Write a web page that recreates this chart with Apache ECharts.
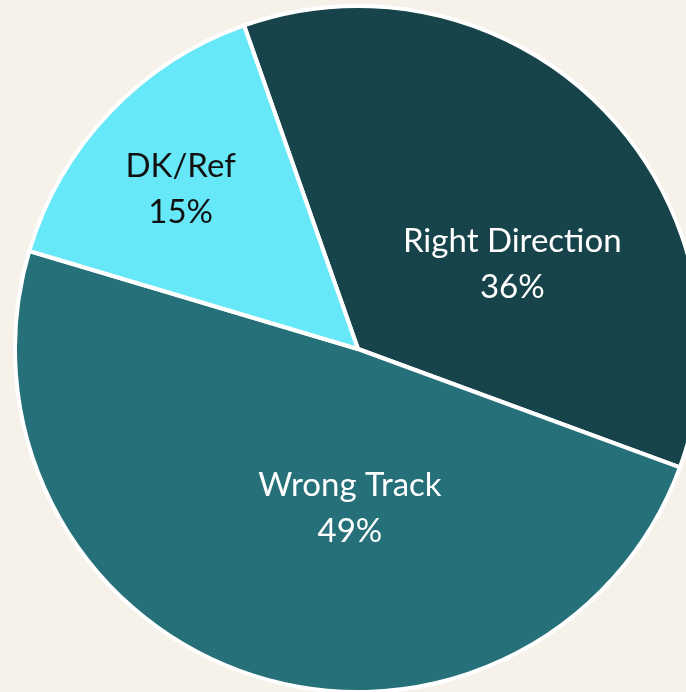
<!DOCTYPE html>
<html>
<head>
<meta charset="utf-8">
<script src="https://cdn.jsdelivr.net/npm/echarts@6/dist/echarts.min.js"></script>
<style>
  html, body { margin: 0; padding: 0; background: #f6f2ea; }
  #chart { width: 686px; height: 692px; }
</style>
</head>
<body>
<div id="chart"></div>
<script>
// slices, clockwise from the top-left
const categories = ['Right Direction', 'Wrong Track', 'DK/Ref']
const shares = [36, 49, 15]
const sliceColors = ['#17444a', '#26707a', '#66e8f9']
const labelColors = ['#ffffff', '#ffffff', '#111111']
// Excel-style label spots don't sit on the mid-angle, so nudge them
const labelOffsets = [[30, 38], [47, -6], [-51, -39]]

const chart = echarts.init(document.getElementById('chart'))

chart.setOption({
  backgroundColor: '#f6f2ea',
  animation: false,
  series: [{
    type: 'pie',
    center: [358, 349],
    radius: [0, 343],
    startAngle: 109.4,
    clockwise: true,
    itemStyle: {
      borderColor: '#ffffff',
      borderWidth: 4
    },
    label: {
      position: 'inside',
      formatter: '{b}\n{c}%',
      fontFamily: 'Lato',
      fontSize: 33,
      lineHeight: 46
    },
    labelLine: { show: false },
    emphasis: { disabled: true },
    data: categories.map((name, i) => ({
      name: name,
      value: shares[i],
      itemStyle: { color: sliceColors[i] },
      label: { color: labelColors[i], offset: labelOffsets[i] }
    }))
  }]
})
</script>
</body>
</html>
